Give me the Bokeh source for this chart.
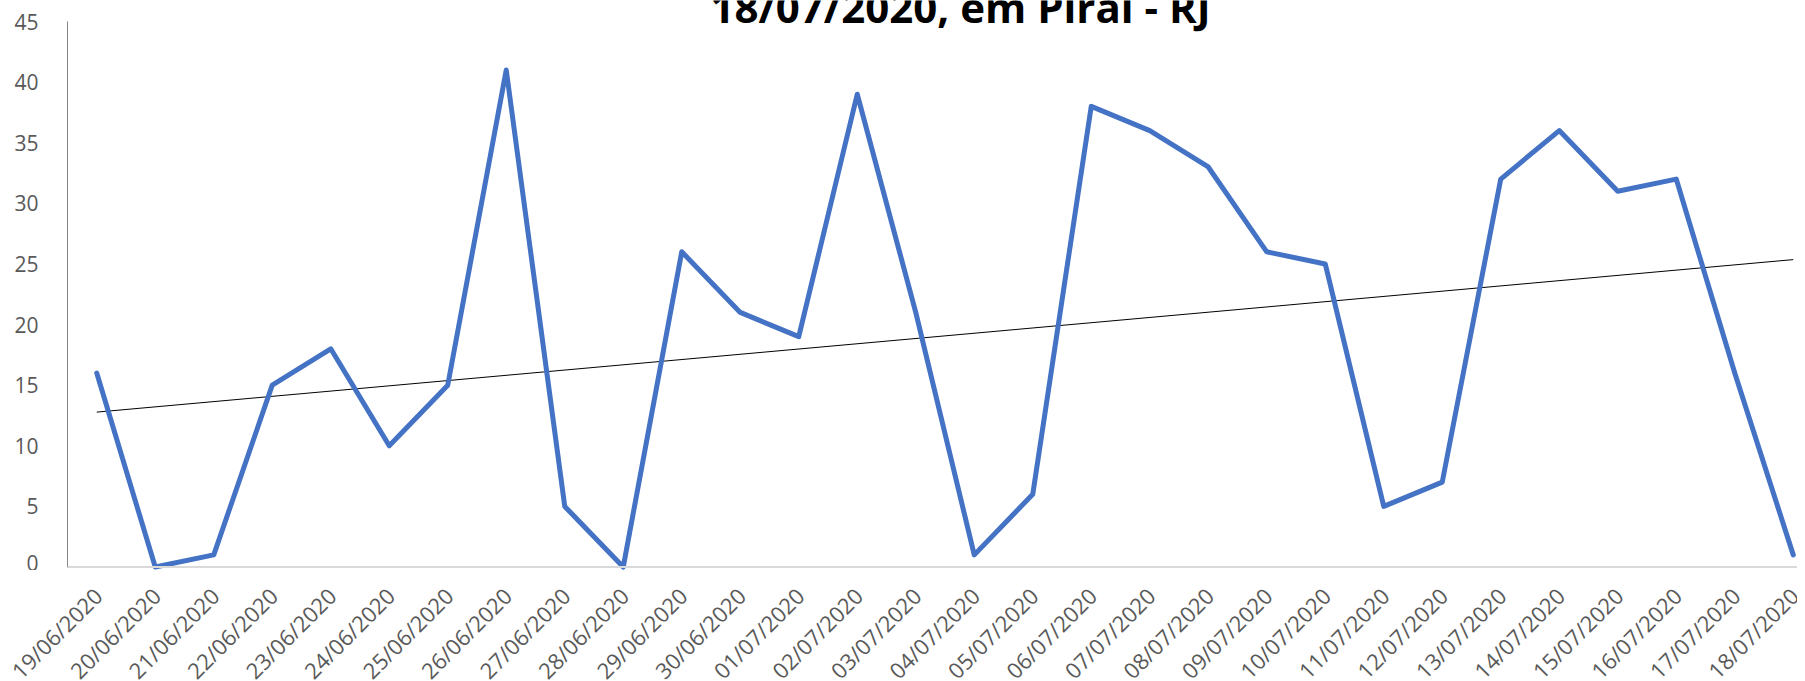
import numpy as np
from bokeh.plotting import figure
from bokeh.layouts import column
from bokeh.models import Range1d, FixedTicker, Span
from bokeh.core.properties import value
from bokeh.embed import file_html
from bokeh.resources import INLINE

dates = ["19/06/2020", "20/06/2020", "21/06/2020", "22/06/2020", "23/06/2020",
         "24/06/2020", "25/06/2020", "26/06/2020", "27/06/2020", "28/06/2020",
         "29/06/2020", "30/06/2020", "01/07/2020", "02/07/2020", "03/07/2020",
         "04/07/2020", "05/07/2020", "06/07/2020", "07/07/2020", "08/07/2020",
         "09/07/2020", "10/07/2020", "11/07/2020", "12/07/2020", "13/07/2020",
         "14/07/2020", "15/07/2020", "16/07/2020", "17/07/2020", "18/07/2020"]
values = [16, 0, 1, 15, 18, 10, 15, 41, 5, 0,
          26, 21, 19, 39, 21, 1, 6, 38, 36, 33,
          26, 25, 5, 7, 32, 36, 31, 32, 16, 1]
y_ticks = [0, 5, 10, 15, 20, 25, 30, 35, 40, 45]
title_text = "18/07/2020, em Piraí - RJ"

x = list(range(len(dates)))

# ---- layout geometry (pixels) ----
W = 1797
LEFT = 67            # y axis position
H1 = 570             # main panel height
H2 = 111             # label strip height
Y0_PX = 566.5        # pixel row of value 0
Y45_PX = 21.0        # pixel row of value 45
UNIT_X = 58.5        # px per category
ppu = (Y0_PX - Y45_PX) / 45.0
y_lo = -(H1 - Y0_PX) / ppu
y_hi = 45 + Y45_PX / ppu
x_lo = -0.5
x_hi = x_lo + (W - LEFT) / UNIT_X

p = figure(width=W, height=H1, output_backend="svg", toolbar_location=None,
           x_range=Range1d(x_lo, x_hi), y_range=Range1d(y_lo, y_hi),
           x_axis_location=None,
           min_border_left=LEFT, min_border_right=0, min_border_top=0,
           min_border_bottom=0)
p.frame_align = False
p.outline_line_color = None
p.xgrid.visible = False
p.ygrid.visible = False

# category axis line
p.add_layout(Span(location=0, dimension="width", line_color="#d9d9d9", line_width=2))

# trendline from least squares fit
slope, intercept = np.polyfit(x, values, 1)
tx = [x[0], x[-1]]
ty = [intercept + slope * t for t in tx]
p.line(tx, ty, line_color="black", line_width=1)

p.line(x, values, line_color="#4472C4", line_width=5,
       line_join="round", line_cap="round")

p.yaxis.ticker = FixedTicker(ticks=y_ticks)
p.yaxis.bounds = (0, 45)
p.yaxis.major_tick_line_color = None
p.yaxis.minor_tick_line_color = None
p.yaxis.axis_line_color = "#868686"
p.yaxis.axis_line_width = 1
p.yaxis.major_label_text_font = "Open Sans"
p.yaxis.major_label_text_font_size = "21px"
p.yaxis.major_label_text_color = "#595959"
p.yaxis.major_label_standoff = 23

# title (partly cut by the top edge, as in the reference)
title_y = (Y0_PX - 6) / ppu
p.text(x=[(x_lo + x_hi) / 2 + (960 - (LEFT + W) / 2) / UNIT_X], y=[title_y],
       text=[title_text], text_align="center", text_baseline="alphabetic",
       text_font=value("Open Sans"), text_font_style="bold",
       text_font_size="42px", text_color="black")

# ---- strip with rotated category labels ----
q = figure(width=W, height=H2, output_backend="svg", toolbar_location=None,
           x_range=Range1d(x_lo - LEFT / UNIT_X, x_hi), y_range=Range1d(-H2, 0),
           x_axis_location=None, y_axis_location=None,
           min_border_left=0, min_border_right=0, min_border_top=0,
           min_border_bottom=0)
q.frame_align = False
q.outline_line_color = None
q.xgrid.visible = False
q.ygrid.visible = False
q.text(x=x, y=[-21] * len(x), text=dates, angle=np.pi / 4,
       x_offset=1, text_align="right", text_baseline="alphabetic",
       text_font=value("Open Sans"), text_font_size="22px", text_color="#595959")

layout = column(p, q, spacing=0)
open("out.html", "w").write(file_html(layout, INLINE))
